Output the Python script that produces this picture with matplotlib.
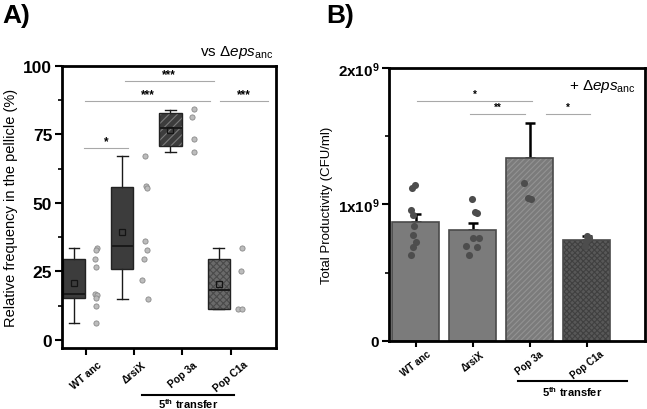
import numpy as np
import matplotlib
matplotlib.use("Agg")
import matplotlib.pyplot as plt
from matplotlib.ticker import FixedLocator
from matplotlib.patches import PathPatch

plt.rcParams['font.family'] = ['Liberation Sans', 'DejaVu Sans']
plt.rcParams['mathtext.fontset'] = 'custom'
plt.rcParams['mathtext.rm'] = 'Liberation Sans'
plt.rcParams['mathtext.it'] = 'Liberation Sans:italic'
plt.rcParams['mathtext.bf'] = 'Liberation Sans:bold'
plt.rcParams['hatch.linewidth'] = 0.8

groups = ["WT anc", "ΔrsiX", "Pop 3a", "Pop C1a"]

# panel A: box stats (%)
a_q1 = [15.3, 25.7, 70.7, 11.2]
a_med = [16.8, 34.4, 77.4, 18.2]
a_q3 = [29.6, 55.7, 82.8, 29.6]
a_lo = [6.2, 14.8, 68.5, 11.2]
a_hi = [33.6, 67.3, 84.1, 33.7]
a_mean = [20.8, 39.2, 76.8, 20.3]
a_pts = [
    [33.7, 32.8, 29.5, 26.5, 16.8, 16.3, 15.3, 12.2, 6.2],
    [67.3, 56.3, 55.4, 36.1, 32.7, 29.4, 21.9, 14.8],
    [84.3, 81.5, 73.2, 68.5],
    [33.7, 25.3, 11.2, 11.2],
]
a_jit = [
    [0.0, -0.03, -0.04, -0.02, -0.04, 0.0, -0.03, -0.02, -0.02],
    [0.0, 0.02, 0.04, 0.0, 0.03, -0.03, -0.06, 0.05],
    [0.0, -0.03, 0.0, 0.0],
    [0.0, -0.01, -0.07, 0.0],
]

# panel B: total productivity (CFU/ml)
b_mean = [0.874e9, 0.815e9, 1.338e9, 0.740e9]
b_err = [0.056e9, 0.047e9, 0.259e9, 0.027e9]
b_pts = [
    [1.145e9, 1.119e9, 0.96e9, 0.923e9, 0.845e9, 0.774e9, 0.727e9, 0.691e9, 0.632e9],
    [1.04e9, 0.943e9, 0.938e9, 0.752e9, 0.757e9, 0.696e9, 0.691e9, 0.632e9],
    [1.155e9, 1.048e9, 1.038e9],
    [0.771e9, 0.752e9, 0.735e9, 0.698e9],
]
b_jit = [
    [-0.01, -0.07, -0.09, -0.05, -0.03, -0.05, 0.01, -0.05, -0.09],
    [-0.01, 0.03, 0.08, 0.01, 0.11, -0.12, 0.07, -0.07],
    [-0.1, -0.03, 0.02],
    [0.0, 0.04, -0.02, -0.03],
]

face_a = ['#3c3c3c', '#3c3c3c', '#3c3c3c', '#6a6a6a']
hatch_a = [None, None, '////', 'xxxxx']
hcol_a = ['#3c3c3c', '#3c3c3c', '#7a7a7a', '#4a4a4a']

fig = plt.figure(figsize=(6.47, 4.10), dpi=100)

# ---------------- panel A ----------------
ax = fig.add_axes([0.0958, 0.1488, 0.3308, 0.6878])
pos = np.arange(1, 5)
stats = []
for i in range(4):
    stats.append(dict(q1=a_q1[i], med=a_med[i], q3=a_q3[i], whislo=a_lo[i],
                      whishi=a_hi[i], mean=a_mean[i], fliers=[]))
bp = ax.bxp(stats, positions=pos - 0.25, widths=0.46, patch_artist=True,
            showmeans=True, capwidths=0.22,
            medianprops=dict(color='#1a1a1a', lw=1.4),
            whiskerprops=dict(color='#1a1a1a', lw=1),
            capprops=dict(color='#1a1a1a', lw=1),
            meanprops=dict(marker='s', mfc='none', mec='#141414', ms=4.5, mew=0.9))
for i, box in enumerate(bp['boxes']):
    box.set_facecolor(face_a[i])
    box.set_edgecolor(hcol_a[i])
    box.set_linewidth(0)
    if hatch_a[i]:
        box.set_hatch(hatch_a[i])
    ax.add_patch(PathPatch(box.get_path(), fill=False, ec='#222222', lw=1, zorder=2.5))
for i in range(4):
    ax.scatter(pos[i] + 0.23 + np.array(a_jit[i]), a_pts[i], s=14, color='#bcbcbc',
               edgecolors='#8a8a8a', linewidths=0.6, zorder=3)

ax.set_xlim(0.5, 4.94)
ax.set_ylim(-3, 100)
ax.yaxis.set_major_locator(FixedLocator([0, 25, 50, 75, 100]))
ax.yaxis.set_minor_locator(FixedLocator([12.5, 37.5, 62.5, 87.5]))
ax.set_xticks(pos)
ax.set_xticklabels(groups, rotation=40, ha='center', va='top', fontsize=7.5, fontweight='bold')
for lbl in ax.get_yticklabels():
    lbl.set_fontweight('bold')
ax.tick_params(axis='y', labelsize=12.5, width=1.5, length=5, pad=2)
ax.tick_params(axis='y', which='minor', width=1.2, length=3)
ax.tick_params(axis='x', width=1.5, length=5, pad=3)
for s in ax.spines.values():
    s.set_linewidth(2)
ax.set_ylabel('Relative frequency in the pellicle (%)', fontsize=10.5, labelpad=4)

# significance bars (A)
sig_a = [(1.8, 3.65, 94.5, '***'), (0.97, 3.58, 87.2, '***'), (3.77, 4.77, 87.2, '***'),
         (0.95, 1.87, 70.0, '*')]
for x0, x1, y, t in sig_a:
    ax.plot([x0, x1], [y, y], color='#a8a8a8', lw=0.8)
    ax.text((x0 + x1) / 2, y + 0.3, t, ha='center', va='bottom', fontsize=8.5, fontweight='bold')

ax.text(0.985, 1.02, 'vs Δ$\\it{eps}_{\\rm anc}$', transform=ax.transAxes, ha='right',
        va='bottom', fontsize=11)
ax.plot([0.374, 0.804], [-0.167, -0.167], transform=ax.transAxes, color='black', lw=1.5,
        clip_on=False)
ax.text(0.589, -0.196, '5$^{\\mathbf{th}}$ transfer', transform=ax.transAxes, ha='center',
        va='center', fontsize=8, fontweight='bold')
fig.text(0.003, 0.99, 'A)', fontsize=19, fontweight='bold', ha='left', va='top')

# ---------------- panel B ----------------
bx = fig.add_axes([0.6012, 0.1659, 0.3957, 0.6659])
face_b = ['#7b7b7b', '#7b7b7b', '#7b7b7b', '#585858']
hatch_b = [None, None, '//////', 'xxxxxx']
hcol_b = ['#7b7b7b', '#7b7b7b', '#939393', '#404040']
bx.errorbar(pos, b_mean, yerr=[np.zeros(4), b_err], fmt='none', ecolor='black',
            elinewidth=1.8, capsize=3.5, capthick=1.8, zorder=1)
for i in range(4):
    bx.bar(pos[i], b_mean[i], width=0.82, color=face_b[i], edgecolor=hcol_b[i],
           hatch=hatch_b[i], lw=0, zorder=2)
bx.bar(pos, b_mean, width=0.82, fill=False, edgecolor='#4a4a4a', lw=1.2, zorder=2.5)
for i in range(4):
    bx.scatter(pos[i] + np.array(b_jit[i]), b_pts[i], s=26, color='#4d4d4d',
               linewidths=0, zorder=3)

bx.set_xlim(0.53, 5.02)
bx.set_ylim(0, 2e9)
bx.yaxis.set_major_locator(FixedLocator([0, 1e9, 2e9]))
bx.yaxis.set_minor_locator(FixedLocator([0.5e9, 1.5e9]))
bx.set_yticklabels(['0', '1x10$^{\\mathbf{9}}$', '2x10$^{\\mathbf{9}}$'], fontsize=11,
                   fontweight='bold')
bx.set_xticks(pos)
bx.set_xticklabels(groups, rotation=38, ha='center', va='top', fontsize=7, fontweight='bold')
bx.tick_params(axis='y', width=1.5, length=5, pad=2)
bx.tick_params(axis='y', which='minor', width=1.2, length=3)
bx.tick_params(axis='x', width=1.5, length=4, pad=1.5)
for s in bx.spines.values():
    s.set_linewidth(2)
bx.set_ylabel('Total Productivity (CFU/ml)', fontsize=9.5, labelpad=3)

sig_b = [(1.02, 3.04, 1.756e9, '*'), (1.95, 2.92, 1.66e9, '**'), (3.29, 4.05, 1.66e9, '*')]
for x0, x1, y, t in sig_b:
    bx.plot([x0, x1], [y, y], color='#a8a8a8', lw=0.8)
    bx.text((x0 + x1) / 2, y + 0.015e9, t, ha='center', va='bottom', fontsize=7,
            fontweight='bold')
bx.text(0.965, 0.935, '+ Δ$\\it{eps}_{\\rm anc}$', transform=bx.transAxes, ha='right',
        va='center', fontsize=11)
bx.plot([0.504, 0.93], [-0.145, -0.145], transform=bx.transAxes, color='black', lw=1.5,
        clip_on=False)
bx.text(0.717, -0.183, '5$^{\\mathbf{th}}$ transfer', transform=bx.transAxes, ha='center',
        va='center', fontsize=8, fontweight='bold')
fig.text(0.505, 0.99, 'B)', fontsize=19, fontweight='bold', ha='left', va='top')

fig.savefig('out.png', dpi=100)
